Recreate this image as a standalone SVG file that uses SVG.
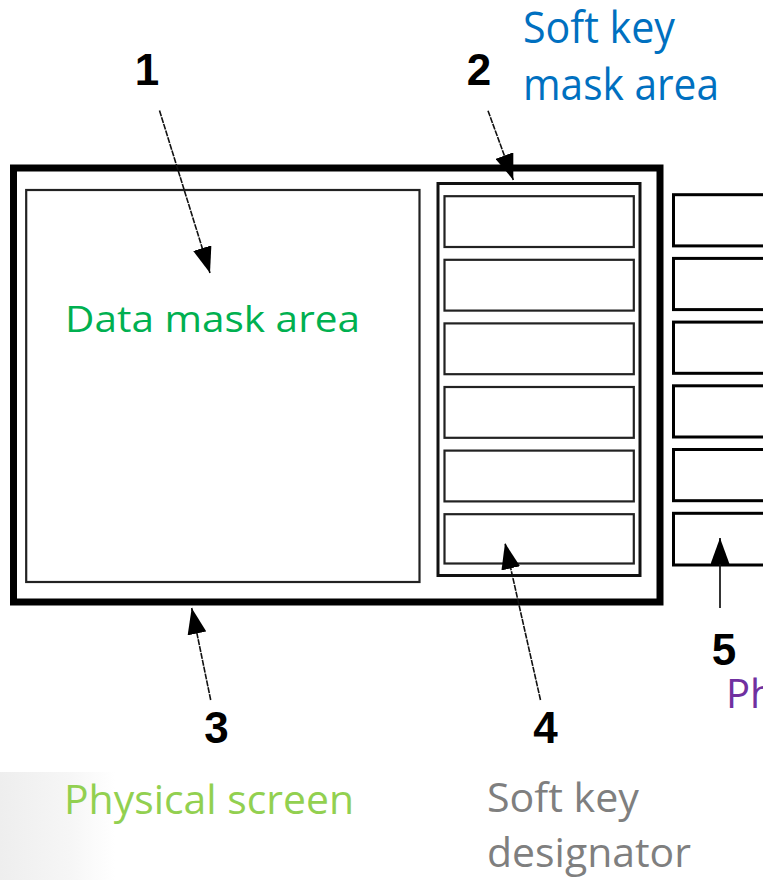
<svg xmlns="http://www.w3.org/2000/svg" width="763" height="880" viewBox="0 0 763 880">
  <style>
    .frame { fill: none; stroke: #000; stroke-width: 7; }
    .thin { fill: none; stroke: #222; stroke-width: 2.2; }
    .mask { fill: none; stroke: #111; stroke-width: 3; }
    .key { fill: #fff; stroke: #000; stroke-width: 3; }
    .num { font-family: "Liberation Sans", Arial, sans-serif; font-weight: bold; font-size: 44px; fill: #000; }
    .lbl { font-family: "Open Sans", "Noto Sans", sans-serif; }
    .lead { stroke: #111; stroke-width: 1.6; fill: none; stroke-dasharray: 6 1; marker-end: url(#head); }
    .lead-solid { stroke: #111; stroke-width: 1.7; fill: none; marker-end: url(#head); }
  </style>
  <defs>
    <marker id="head" markerUnits="userSpaceOnUse" markerWidth="26" markerHeight="19" refX="26" refY="9.5" orient="auto">
      <path d="M0,0 L26,9.5 L0,19 z" fill="#000"/>
    </marker>
    <linearGradient id="haze" x1="0" y1="0" x2="1" y2="0">
      <stop offset="0" stop-color="#eeeeee"/>
      <stop offset="0.6" stop-color="#f6f6f6"/>
      <stop offset="1" stop-color="#ffffff"/>
    </linearGradient>
  </defs>

  <rect width="763" height="880" fill="#fff"/>
  <!-- faint backdrop texture at the lower-left corner -->
  <rect x="0" y="772" width="115" height="108" fill="url(#haze)"/>

  <!-- physical screen -->
  <g id="physical-screen">
    <rect class="frame" x="13.5" y="168" width="646.5" height="434"/>
  </g>

  <!-- data mask area -->
  <g id="data-mask">
    <rect class="thin" x="26.2" y="190" width="393.3" height="392"/>
    <text class="lbl" x="65" y="332" font-size="36" fill="#00B050" textLength="295" lengthAdjust="spacingAndGlyphs">Data mask area</text>
  </g>

  <!-- soft key mask area with six designators -->
  <g id="soft-key-mask">
    <rect class="mask" x="438" y="183.5" width="202" height="392"/>
    <rect class="thin" x="444.5" y="196.2" width="189.3" height="50.8"/>
    <rect class="thin" x="444.5" y="259.8" width="189.3" height="50.8"/>
    <rect class="thin" x="444.5" y="323.4" width="189.3" height="50.8"/>
    <rect class="thin" x="444.5" y="387" width="189.3" height="50.8"/>
    <rect class="thin" x="444.5" y="450.6" width="189.3" height="50.8"/>
    <rect class="thin" x="444.5" y="514.2" width="189.3" height="49.3"/>
  </g>

  <!-- physical keys beside the screen -->
  <g id="physical-keys">
    <rect class="key" x="673.5" y="194.7" width="120" height="51.2"/>
    <rect class="key" x="673.5" y="258.4" width="120" height="51.2"/>
    <rect class="key" x="673.5" y="322.1" width="120" height="51.2"/>
    <rect class="key" x="673.5" y="385.8" width="120" height="51.2"/>
    <rect class="key" x="673.5" y="449.5" width="120" height="51.2"/>
    <rect class="key" x="673.5" y="513.3" width="120" height="51.7"/>
  </g>

  <!-- leader arrows -->
  <g id="connectors">
    <line class="lead" x1="159.5" y1="110.5" x2="210" y2="273"/>
    <line class="lead" x1="488" y1="110.7" x2="513.3" y2="180"/>
    <line class="lead" x1="210.7" y1="700" x2="191.7" y2="608"/>
    <line class="lead" x1="540.5" y1="700" x2="505" y2="543"/>
    <line class="lead-solid" x1="720" y1="608" x2="720" y2="538"/>
  </g>

  <!-- callout numbers -->
  <g id="callout-1"><text class="num" x="147" y="85" text-anchor="middle">1</text></g>
  <g id="callout-2"><text class="num" x="479" y="85" text-anchor="middle">2</text></g>
  <g id="callout-3"><text class="num" x="216.5" y="743" text-anchor="middle">3</text></g>
  <g id="callout-4"><text class="num" x="545.5" y="743" text-anchor="middle">4</text></g>
  <g id="callout-5"><text class="num" x="724" y="665" text-anchor="middle">5</text></g>

  <!-- labels -->
  <g id="label-soft-key-mask">
    <text class="lbl" x="523" y="43" font-size="43" fill="#0070C0" textLength="152" lengthAdjust="spacingAndGlyphs">Soft key</text>
    <text class="lbl" x="523" y="99.5" font-size="43" fill="#0070C0" textLength="196" lengthAdjust="spacingAndGlyphs">mask area</text>
  </g>
  <g id="label-physical-screen">
    <text class="lbl" x="64" y="813.5" font-size="40" fill="#92D050" textLength="290" lengthAdjust="spacingAndGlyphs">Physical screen</text>
  </g>
  <g id="label-soft-key-designator">
    <text class="lbl" x="487" y="811.7" font-size="40" fill="#7F7F7F" textLength="152" lengthAdjust="spacingAndGlyphs">Soft key</text>
    <text class="lbl" x="487" y="866.7" font-size="40" fill="#7F7F7F" textLength="204" lengthAdjust="spacingAndGlyphs">designator</text>
  </g>
  <g id="label-physical-keys">
    <text class="lbl" x="726" y="708.3" font-size="40" fill="#7030A0">Ph</text>
  </g>
</svg>
